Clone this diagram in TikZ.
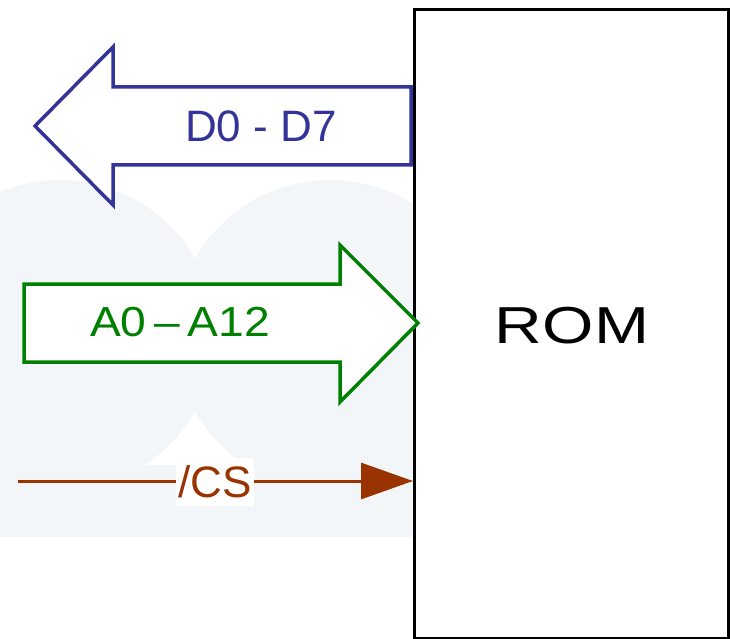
\documentclass[tikz,border=0pt]{standalone}
\usepackage{fontspec}
\setmainfont{Liberation Sans}
\usetikzlibrary{arrows.meta}
\definecolor{busblue}{HTML}{333399}
\definecolor{busgreen}{HTML}{008000}
\definecolor{csbrown}{HTML}{993300}
\definecolor{wm}{HTML}{F3F6F9}
\tikzset{
  bus/.style={line width=3.5pt, line join=miter, fill=white},
  lbl/.style={inner sep=0pt, font=\fontsize{44}{44}\selectfont},
}
\begin{document}
\begin{tikzpicture}[x=1pt,y=-1pt]
\useasboundingbox (0,0) rectangle (730,639);
\fill[white] (0,0) rectangle (730,639);
% faint watermark
\begin{scope}
\clip (0,0) rectangle (413,639);
\fill[wm] (60,335) circle (155);
\fill[wm] (330,335) circle (155);
\fill[wm] (0,465) rectangle (413,537);
\end{scope}
% ROM
\node[draw=black, line width=3pt, fill=white, minimum width=314pt, minimum height=629pt, anchor=north west, inner sep=0pt] (rom) at (413,8) {};
\node[inner sep=0pt, font=\fontsize{52}{52}\selectfont, xscale=1.27] (romt) at (572,326) {ROM};
% D0-D7 (left arrow)
\draw[bus, draw=busblue] (411,87) -- (113,87) -- (113,47) -- (35,126) -- (113,205) -- (113,165) -- (411,165) -- cycle;
\node[lbl, text=busblue] (dlbl) at (261,126) {D0 - D7};
% A0-A12 (right arrow)
\draw[bus, draw=busgreen] (24,284) -- (340,284) -- (340,245) -- (418,323) -- (340,402) -- (340,362) -- (24,362) -- cycle;
\node[lbl, text=busgreen, font=\fontsize{42}{42}\selectfont, xscale=1.1] (albl) at (180,322) {A0\,–\,A12};
% /CS
\coordinate (csstart) at (18,481);
\coordinate (csend) at (rom.west |- csstart);
\draw[csbrown, line width=3pt, -{Triangle[length=52pt,width=36pt]}] (csstart) -- (csend);
\node[lbl, text=csbrown, fill=white, inner xsep=2pt, inner ysep=8pt] (cslbl) at (215,482) {/CS};
\end{tikzpicture}
\end{document}
